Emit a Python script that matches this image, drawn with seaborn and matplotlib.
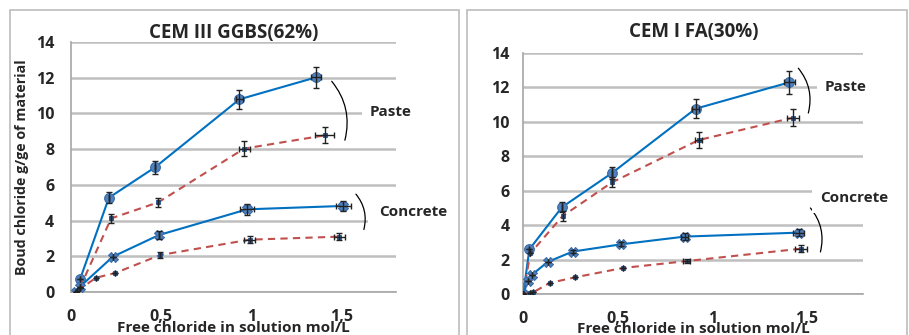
import numpy as np
import pandas as pd
import matplotlib.pyplot as plt
import seaborn as sns
from matplotlib.patches import Rectangle

# DATA

# CEM III GGBS(62%)
ggbs_paste_x = [0.05, 0.21, 0.465, 0.933, 1.357]
ggbs_paste_y = [0.71, 5.28, 6.98, 10.79, 12.02]
ggbs_paste_yerr = [0.0, 0.3, 0.35, 0.55, 0.6]
ggbs_paste_xerr = [0.0, 0.0, 0.0, 0.02, 0.03]

ggbs_paste_free_x = [0.05, 0.222, 0.483, 0.959, 1.404]
ggbs_paste_free_y = [0.25, 4.12, 5.02, 8.03, 8.77]
ggbs_paste_free_yerr = [0.0, 0.25, 0.25, 0.4, 0.45]
ggbs_paste_free_xerr = [0.0, 0.0, 0.0, 0.03, 0.05]

ggbs_conc_x = [0.03, 0.05, 0.232, 0.487, 0.976, 1.509]
ggbs_conc_y = [0.0, 0.3, 1.98, 3.19, 4.63, 4.82]
ggbs_conc_yerr = [0.0, 0.0, 0.0, 0.2, 0.3, 0.3]
ggbs_conc_xerr = [0.0, 0.0, 0.0, 0.0, 0.04, 0.04]

ggbs_conc_free_x = [0.035, 0.139, 0.244, 0.494, 0.989, 1.487]
ggbs_conc_free_y = [0.07, 0.8, 1.06, 2.07, 2.93, 3.1]
ggbs_conc_free_yerr = [0.0, 0.0, 0.0, 0.15, 0.2, 0.2]
ggbs_conc_free_xerr = [0.0, 0.0, 0.0, 0.0, 0.03, 0.03]

# CEM I FA(30%)
fa_paste_x = [0.0, 0.032, 0.204, 0.467, 0.912, 1.409]
fa_paste_y = [0.0, 2.59, 5.03, 7.0, 10.75, 12.28]
fa_paste_yerr = [0.0, 0.0, 0.3, 0.35, 0.55, 0.65]
fa_paste_xerr = [0.0, 0.0, 0.0, 0.0, 0.02, 0.03]

fa_paste_free_x = [0.0, 0.037, 0.208, 0.47, 0.928, 1.428]
fa_paste_free_y = [0.0, 2.36, 4.52, 6.48, 8.93, 10.23]
fa_paste_free_yerr = [0.0, 0.0, 0.3, 0.3, 0.45, 0.5]
fa_paste_free_xerr = [0.0, 0.0, 0.0, 0.0, 0.02, 0.03]

fa_conc_x = [0.0, 0.023, 0.044, 0.129, 0.261, 0.516, 0.854, 1.458]
fa_conc_y = [0.0, 0.73, 1.1, 1.86, 2.46, 2.88, 3.33, 3.56]
fa_conc_yerr = [0.0, 0.0, 0.0, 0.0, 0.1, 0.12, 0.2, 0.2]
fa_conc_xerr = [0.0, 0.0, 0.0, 0.0, 0.0, 0.0, 0.02, 0.03]

fa_conc_free_x = [0.0, 0.035, 0.053, 0.139, 0.275, 0.528, 0.865, 1.471]
fa_conc_free_y = [0.0, 0.04, 0.1, 0.64, 0.97, 1.51, 1.91, 2.63]
fa_conc_free_yerr = [0.0, 0.0, 0.0, 0.0, 0.0, 0.0, 0.1, 0.2]
fa_conc_free_xerr = [0.0, 0.0, 0.0, 0.0, 0.0, 0.0, 0.02, 0.03]

y_ticks = [0, 2, 4, 6, 8, 10, 12, 14]
x_ticks = [0, 0.5, 1, 1.5]
x_ticklabels = ['0', '0,5', '1', '1,5']

# STYLE

sns.set_style("white")
plt.rcParams['font.family'] = ['Open Sans', 'DejaVu Sans']

BLUE = '#0070c0'
RED = '#c0504d'
MARK = '#4f81bd'
GRID = '#bfbfbf'

fig = plt.figure(figsize=(9.09, 3.35), dpi=100)

# panel frames
fig.patches.append(Rectangle((10 / 909, -0.05), 449 / 909, 1.05 - 10 / 335,
                             transform=fig.transFigure, fill=False, ec='#bcbcbc', lw=1.2, zorder=0))
fig.patches.append(Rectangle((467 / 909, -0.05), 440 / 909, 1.05 - 10 / 335,
                             transform=fig.transFigure, fill=False, ec='#bcbcbc', lw=1.2, zorder=0))

ax1 = fig.add_axes([71 / 909, 1 - 292 / 335, 325 / 909, 250 / 335])
ax2 = fig.add_axes([523.3 / 909, 1 - 294 / 335, 340 / 909, 241.3 / 335])


def draw_series(ax, xs, ys, xerr, yerr, solid, marker):
    df = pd.DataFrame({'x': xs, 'y': ys})
    if solid:
        sns.lineplot(data=df, x='x', y='y', ax=ax, sort=False, estimator=None,
                     color=BLUE, lw=1.5, marker=marker,
                     markersize=7 if marker == 'o' else 6.5,
                     markerfacecolor=MARK, markeredgecolor='#3a6aa5', markeredgewidth=0.8, zorder=3)
    else:
        sns.lineplot(data=df, x='x', y='y', ax=ax, sort=False, estimator=None,
                     color=RED, lw=1.5, marker='s', markersize=3,
                     markerfacecolor='#2e5f9e', markeredgecolor='#1f4f8a', markeredgewidth=0.6, zorder=3)
        ax.lines[-1].set_dashes((3.5, 2.5))
    ax.errorbar(xs, ys, xerr=xerr, yerr=yerr, fmt='none', ecolor='#222222',
                elinewidth=1.0, capsize=2.2, capthick=1.0, zorder=4)


draw_series(ax1, ggbs_paste_x, ggbs_paste_y, ggbs_paste_xerr, ggbs_paste_yerr, True, 'o')
draw_series(ax1, ggbs_paste_free_x, ggbs_paste_free_y, ggbs_paste_free_xerr, ggbs_paste_free_yerr, False, 's')
draw_series(ax1, ggbs_conc_x, ggbs_conc_y, ggbs_conc_xerr, ggbs_conc_yerr, True, 'X')
draw_series(ax1, ggbs_conc_free_x, ggbs_conc_free_y, ggbs_conc_free_xerr, ggbs_conc_free_yerr, False, 's')

draw_series(ax2, fa_paste_x, fa_paste_y, fa_paste_xerr, fa_paste_yerr, True, 'o')
draw_series(ax2, fa_paste_free_x, fa_paste_free_y, fa_paste_free_xerr, fa_paste_free_yerr, False, 's')
draw_series(ax2, fa_conc_x, fa_conc_y, fa_conc_xerr, fa_conc_yerr, True, 'X')
draw_series(ax2, fa_conc_free_x, fa_conc_free_y, fa_conc_free_xerr, fa_conc_free_yerr, False, 's')

for ax, ypad in [(ax1, 12), (ax2, 10)]:
    ax.set_xlim(0, 1.8)
    ax.set_ylim(0, 14)
    ax.set_yticks(y_ticks)
    ax.set_xticks(x_ticks)
    ax.set_xticklabels(x_ticklabels)
    ax.yaxis.grid(True, color=GRID, lw=1.8, zorder=0)
    ax.xaxis.grid(False)
    ax.set_axisbelow(True)
    for side in ['top', 'right']:
        ax.spines[side].set_visible(False)
    for side in ['left', 'bottom']:
        ax.spines[side].set_color('#a6a6a6')
        ax.spines[side].set_linewidth(1.2)
    ax.tick_params(axis='x', which='major', direction='out', length=5, width=1.2,
                   color='#a6a6a6', pad=7, labelsize=11.5)
    ax.tick_params(axis='y', length=0, pad=ypad, labelsize=11.5)
    for lab in ax.get_xticklabels() + ax.get_yticklabels():
        lab.set_fontweight('bold')
    ax.set_ylabel('')
    ax.set_xlabel('Free chloride in solution mol/L', fontsize=11, fontweight='bold')

ax1.xaxis.set_label_coords(0.5, -0.118)
ax2.xaxis.set_label_coords(0.5, -0.115)
ax1.set_ylabel('Boud chloride g/ge of material', fontsize=10.3, fontweight='bold')
ax1.yaxis.set_label_coords(-0.13, 0.5)

ax1.set_title('CEM III GGBS(62%)', fontsize=13.5, fontweight='bold', pad=3)
ax2.set_title('CEM I FA(30%)', fontsize=13.5, fontweight='bold', pad=11)

# LABELS AND BRACKETS
box = dict(boxstyle='square,pad=0.55', fc='white', ec='none')
ax1.text(1.656, 10.08, 'Paste', fontsize=11, fontweight='bold', ha='left', va='center',
         bbox=box, clip_on=False, zorder=5)
ax1.text(1.706, 4.48, 'Concrete', fontsize=11, fontweight='bold', ha='left', va='center',
         bbox=dict(boxstyle='square,pad=0.7', fc='white', ec='none'), clip_on=False, zorder=5)
ax2.text(1.597, 12.02, 'Paste', fontsize=11, fontweight='bold', ha='left', va='center',
         bbox=box, clip_on=False, zorder=5)
ax2.text(1.571, 5.59, 'Concrete', fontsize=11, fontweight='bold', ha='left', va='center',
         bbox=box, clip_on=False, zorder=5)

arc = dict(arrowstyle='-', connectionstyle='arc3,rad=-0.25', color='black', lw=0.9,
           shrinkA=0, shrinkB=0)
ax1.annotate('', xy=(1.517, 8.5), xytext=(1.444, 11.8), arrowprops=arc, annotation_clip=False)
ax1.annotate('', xy=(1.622, 3.5), xytext=(1.578, 5.48), arrowprops=arc, annotation_clip=False)
ax2.annotate('', xy=(1.509, 10.5), xytext=(1.456, 13.1), arrowprops=arc, annotation_clip=False)
ax2.annotate('', xy=(1.573, 2.44), xytext=(1.52, 4.99), arrowprops=arc, annotation_clip=False)

plt.savefig('out.png', dpi=100)
